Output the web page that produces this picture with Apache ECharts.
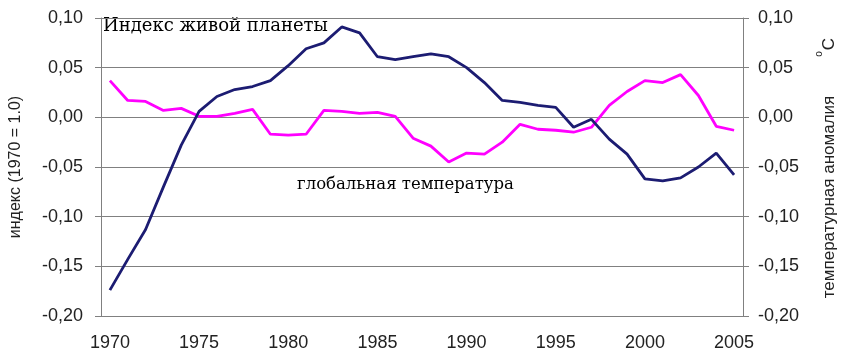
<!DOCTYPE html>
<html>
<head>
<meta charset="utf-8">
<script src="https://cdn.jsdelivr.net/npm/echarts@6/dist/echarts.min.js"></script>
<style>
  html, body { margin: 0; padding: 0; background: #fff; }
  #chart { width: 845px; height: 361px; }
</style>
</head>
<body>
<div id="chart"></div>
<script>
const years = []
for (let y = 1970; y <= 2005; y++) years.push(String(y))

// индекс живой планеты (левая ось)
const lpi = [
  -0.174, -0.143, -0.113, -0.070, -0.028, 0.006, 0.021, 0.028, 0.031, 0.037,
  0.052, 0.069, 0.075, 0.091, 0.085, 0.061, 0.058, 0.061, 0.064, 0.061,
  0.050, 0.035, 0.017, 0.015, 0.012, 0.010, -0.010, -0.002, -0.022, -0.037,
  -0.062, -0.064, -0.061, -0.050, -0.036, -0.058
]

// глобальная температура (правая ось)
const temp = [
  0.037, 0.017, 0.016, 0.007, 0.009, 0.001, 0.001, 0.004, 0.008, -0.017,
  -0.018, -0.017, 0.007, 0.006, 0.004, 0.005, 0.001, -0.021, -0.029, -0.045,
  -0.036, -0.037, -0.025, -0.007, -0.012, -0.013, -0.015, -0.010, 0.012, 0.026,
  0.037, 0.035, 0.043, 0.022, -0.009, -0.013
]

const GRAY = '#808080'
const TXT = '#222'

function fmt(v) {
  if (Math.abs(v) < 1e-9) v = 0
  return v.toFixed(2).replace('.', ',')
}

const yBase = {
  type: 'value',
  min: -0.2,
  max: 0.1,
  interval: 0.05,
  axisLine: { show: true, lineStyle: { color: GRAY, width: 1 } },
  axisTick: { show: true, length: 6, lineStyle: { color: GRAY } },
  splitLine: { show: false },
  axisLabel: { color: TXT, fontSize: 18, fontFamily: 'Liberation Sans', formatter: fmt }
}

const chart = echarts.init(document.getElementById('chart'), null, { renderer: 'canvas' })
chart.setOption({
  animation: false,
  grid: { left: 93, right: 102, top: 18, bottom: 45 },
  xAxis: {
    type: 'category',
    data: years,
    boundaryGap: true,
    axisLine: { lineStyle: { color: GRAY } },
    axisTick: { interval: 4, length: 6, lineStyle: { color: GRAY } },
    axisLabel: { interval: 4, margin: 18, color: TXT, fontSize: 18, fontFamily: 'Liberation Sans' }
  },
  yAxis: [
    Object.assign({}, yBase, {
      position: 'left',
      splitLine: { show: true, lineStyle: { color: GRAY, width: 1 } },
      axisLabel: Object.assign({}, yBase.axisLabel, { margin: 18 }),
      name: 'индекс (1970 = 1.0)',
      nameLocation: 'middle',
      nameRotate: 90,
      nameGap: 77,
      nameTextStyle: { color: TXT, fontSize: 16, fontFamily: 'Liberation Sans' }
    }),
    Object.assign({}, yBase, {
      position: 'right',
      axisLabel: Object.assign({}, yBase.axisLabel, { margin: 15 })
    })
  ],
  graphic: [
    { type: 'text', left: 103, top: 17, style: { text: 'Индекс живой планеты', fill: '#000', font: '18px "DejaVu Serif"' } },
    { type: 'text', left: 297, top: 176, style: { text: 'глобальная температура', fill: '#000', font: '16.5px "DejaVu Serif"' } },
    { type: 'text', x: 829, y: 197, rotation: Math.PI / 2, style: { text: 'температурная аномалия', fill: TXT, font: '17px "Liberation Sans"', align: 'center', verticalAlign: 'middle' } },
    { type: 'text', x: 829, y: 44, rotation: Math.PI / 2, style: { text: 'C', fill: TXT, font: '17px "Liberation Sans"', align: 'center', verticalAlign: 'middle' } },
    { type: 'text', x: 819, y: 54, rotation: Math.PI / 2, style: { text: 'o', fill: TXT, font: '10px "Liberation Sans"', align: 'center', verticalAlign: 'middle' } }
  ],
  series: [
    {
      name: 'Индекс живой планеты',
      type: 'line',
      yAxisIndex: 0,
      data: lpi,
      symbol: 'none',
      lineStyle: { color: '#1c1c72', width: 2.8 },
      z: 3
    },
    {
      name: 'глобальная температура',
      type: 'line',
      yAxisIndex: 1,
      data: temp,
      symbol: 'none',
      lineStyle: { color: '#ff00ff', width: 2.8 },
      z: 2
    }
  ]
})
</script>
</body>
</html>
